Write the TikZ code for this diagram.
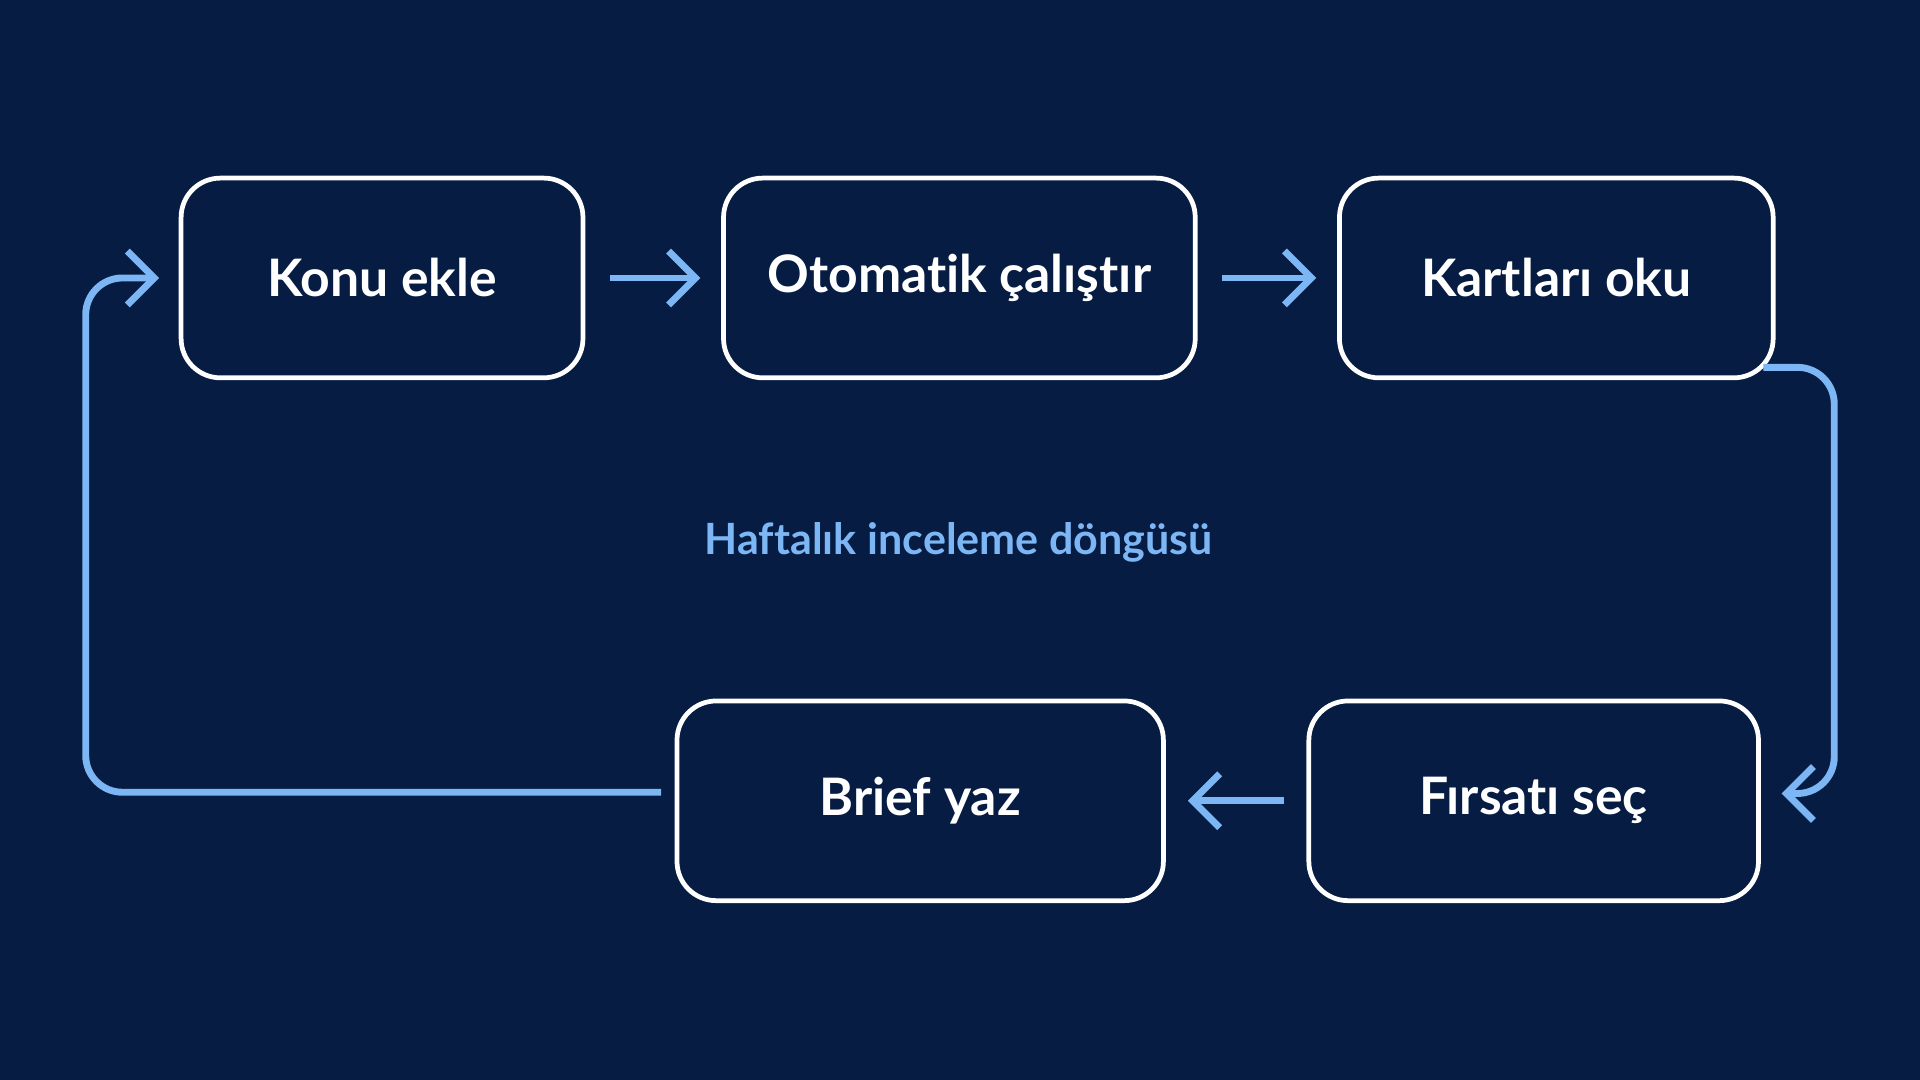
\documentclass[tikz,border=0pt]{standalone}
\usepackage{fontspec}
\setmainfont[Ligatures=NoCommon]{Lato}
\usetikzlibrary{arrows.meta}
\definecolor{bgnavy}{HTML}{061C42}
\definecolor{loopblue}{HTML}{7DB6F4}
\tikzset{
  stepbox/.style={draw=white, line width=1.1pt, rounded corners=0.32cm, minimum height=1.63cm,
    text=white, font=\bfseries\fontsize{12}{14}\selectfont},
  flow/.style={draw=loopblue, line width=1.6pt, -{Straight Barb[length=2.2mm,width=4.4mm,line width=1.6pt]}},
}
\begin{document}
\begin{tikzpicture}[x=0.01cm,y=-0.01cm]
\fill[bgnavy] (0,0) rectangle (1568,882);
%%% the five steps of the loop
\node[stepbox, minimum width=3.28cm] (konu) at (312,227) {Konu ekle};
\node[stepbox, minimum width=3.85cm] (oto) at (783.5,227) {Otomatik çalıştır};
\node[stepbox, minimum width=3.54cm] (kart) at (1271,227) {Kartları oku};
\node[stepbox, minimum width=3.67cm] (firsat) at (1252.5,654) {Fırsatı seç};
\node[stepbox, minimum width=3.97cm] (brief) at (751.5,654) {Brief yaz};
\node[text=loopblue, font=\bfseries\fontsize{10}{12}\selectfont] (title) at (783,443) {Haftalık inceleme döngüsü};
%
\coordinate (kartout) at (1440,300);
\coordinate (firsatin) at (1455,648);
\coordinate (briefout) at (540,647);
\coordinate (konuin) at (130,227);
\draw[flow] ([xshift=0.2cm]konu.east) -- ([xshift=-0.17cm]oto.west);
\draw[flow] ([xshift=0.2cm]oto.east) -- ([xshift=-0.17cm]kart.west);
\draw[flow] ([xshift=-0.18cm]firsat.west) -- ([xshift=0.18cm]brief.east);
\draw[flow, rounded corners=0.3cm] (kartout) -- (1498,300) -- (1498,648) -- (firsatin);
\draw[flow, rounded corners=0.3cm] (briefout) -- (70,647) -- (70,227) -- (konuin);
\end{tikzpicture}
\end{document}
